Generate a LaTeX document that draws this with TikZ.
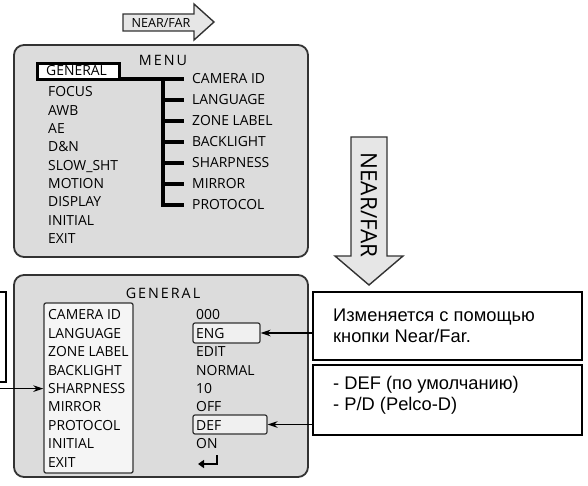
\documentclass[tikz,border=0pt]{standalone}
\usepackage{fontspec}
\setmainfont{Open Sans}
\newfontfamily\rufont{Liberation Sans}
\newfontfamily\spaced[LetterSpace=14]{Open Sans}
\usetikzlibrary{arrows.meta}
\definecolor{panelgray}{HTML}{DCDCDC}
\definecolor{edgegray}{HTML}{333333}
\definecolor{arrowfill}{HTML}{E6E6E6}
\begin{document}
\begin{tikzpicture}[x=1pt,y=-1pt,
  panel/.style={draw=edgegray, line width=1.8pt, fill=panelgray, rounded corners=10pt},
  item/.style={anchor=west, inner sep=0pt, text height=9.8pt, text depth=0pt, font=\fontsize{13.9}{15}\selectfont},
  title/.style={inner sep=0pt, text height=10pt, text depth=0pt, font=\spaced\fontsize{14.3}{15}\selectfont},
  tree/.style={line width=3.8pt},
  valbox/.style={draw=edgegray, line width=1.2pt, fill=white!94!black, rounded corners=2pt, inner sep=0pt},
  note/.style={draw=black, line width=1.6pt, fill=white, inner sep=0pt},
  notetext/.style={anchor=west, align=left, inner sep=0pt, font=\rufont\fontsize{18.3}{21}\selectfont},
  ptr/.style={-{Stealth[length=10pt,width=6.5pt]}, line width=1.5pt},
  bigarrow/.style={draw=edgegray, line width=1.4pt, fill=arrowfill}
]
\useasboundingbox (0,0) rectangle (588,486);

% horizontal NEAR/FAR arrow
\draw[bigarrow] (123,14) -- (194,14) -- (194,4) -- (214,22) -- (194,40) -- (194,31) -- (123,31) -- cycle;
\node[inner sep=0pt, font=\fontsize{12.6}{13}\selectfont] (nfh) at (161,23) {NEAR/FAR};

% top panel
\node[panel, minimum width=294pt, minimum height=212pt] (menu) at (161,151) {};
\node[title] (menutitle) at (163,61) {MENU};
\node[draw=black, line width=3pt, fill=white, minimum width=82pt, minimum height=16pt, inner sep=0pt] (genbox) at (78,72) {};
\node[item] (m1) at (46,71) {GENERAL};
\node[item] (m2) at (48,92) {FOCUS};
\node[item] (m3) at (48,110.3) {AWB};
\node[item] (m4) at (48,128.7) {AE};
\node[item] (m5) at (48,147) {D\&N};
\node[item] (m6) at (48,165.3) {SLOW\_SHT};
\node[item] (m7) at (48,183.7) {MOTION};
\node[item] (m8) at (48,202) {DISPLAY};
\node[item] (m9) at (48,220.3) {INITIAL};
\node[item] (m10) at (48,238.7) {EXIT};

\node[item] (t1) at (192,79) {CAMERA ID};
\node[item] (t2) at (192,100) {LANGUAGE};
\node[item] (t3) at (192,121) {ZONE LABEL};
\node[item] (t4) at (192,142) {BACKLIGHT};
\node[item] (t5) at (192,163) {SHARPNESS};
\node[item] (t6) at (192,184) {MIRROR};
\node[item] (t7) at (192,205) {PROTOCOL};
\coordinate (jn) at (163,79);
\draw[tree] (genbox.east |- t1.west) -- ([xshift=-8pt]t1.west);
\draw[tree, line cap=rect] (jn) -- (jn |- t7.west);
\foreach \t in {t2,t3,t4,t5,t6,t7}
  \draw[tree] (jn |- \t.west) -- ([xshift=-8pt]\t.west);

% vertical NEAR/FAR arrow
\draw[bigarrow] (351,137) -- (387,137) -- (387,256) -- (403,256) -- (369,285) -- (335,256) -- (351,256) -- cycle;
\node[inner sep=0pt, rotate=-90, font=\fontsize{22.5}{24}\selectfont] (nfv) at (369,205) {NEAR/FAR};

% bottom panel
\node[panel, minimum width=294pt, minimum height=202pt] (gen) at (161,376) {};
\node[title] (gentitle) at (163,293) {GENERAL};
\node[draw=edgegray, line width=1.3pt, fill=white!96!black, rounded corners=2pt, minimum width=89pt, minimum height=170pt, inner sep=0pt] (inbox) at (88.5,388) {};
\node[valbox, minimum width=67pt, minimum height=20pt] (engbox) at (226.5,333) {};
\node[valbox, minimum width=74pt, minimum height=19pt] (defbox) at (230,424.5) {};

\node[item] (g1) at (48,315) {CAMERA ID};
\node[item] (g2) at (48,333.4) {LANGUAGE};
\node[item] (g3) at (48,351.8) {ZONE LABEL};
\node[item] (g4) at (48,370.2) {BACKLIGHT};
\node[item] (g5) at (48,388.6) {SHARPNESS};
\node[item] (g6) at (48,407) {MIRROR};
\node[item] (g7) at (48,425.4) {PROTOCOL};
\node[item] (g8) at (48,443.8) {INITIAL};
\node[item] (g9) at (48,462.2) {EXIT};

\node[item] (v1) at (196,315) {000};
\node[item] (v2) at (196,333.4) {ENG};
\node[item] (v3) at (196,351.8) {EDIT};
\node[item] (v4) at (196,370.2) {NORMAL};
\node[item] (v5) at (196,388.6) {10};
\node[item] (v6) at (196,407) {OFF};
\node[item] (v7) at (196,425.4) {DEF};
\node[item] (v8) at (196,443.8) {ON};
\coordinate (v9) at (217,455);
\draw[line width=2.8pt, -{Triangle[length=6pt,width=8pt]}] (v9) -- ++(0,9) -- ++(-19,0);

% note boxes
\node[note, minimum width=269pt, minimum height=68pt] (n1) at (447.5,326) {};
\node[notetext] (n1t) at (333,326) {Изменяется с помощью\\кнопки Near/Far.};
\node[note, minimum width=269pt, minimum height=70pt] (n2) at (447.5,400) {};
\node[notetext] (n2t) at (333,395) {- DEF (по умолчанию)\\- P/D (Pelco-D)};

% left cut-off note
\node[note, minimum width=40pt, minimum height=90pt] (n0) at (-14,337) {};

% pointers
\draw[ptr] (n1.west |- engbox.east) -- (engbox.east);
\draw[ptr] (n2.west |- defbox.east) -- (defbox.east);
\coordinate (lstart) at (0,388.6);
\draw[ptr] (lstart) -- (inbox.west |- g5.west);
\end{tikzpicture}
\end{document}
